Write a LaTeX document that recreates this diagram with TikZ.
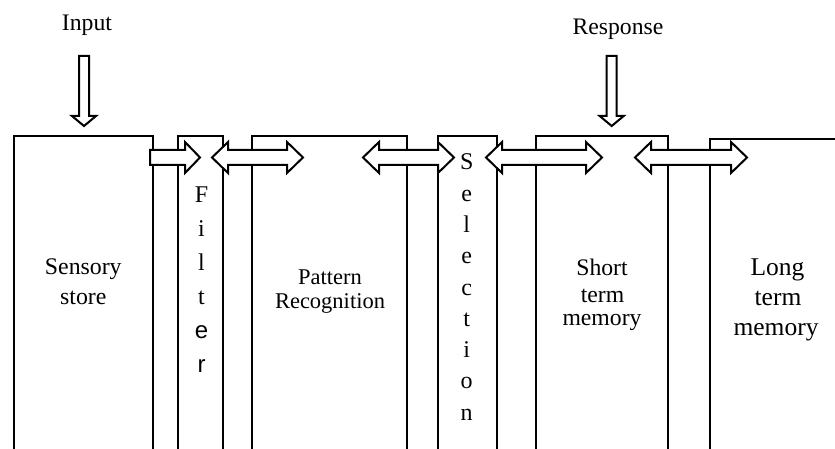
\documentclass[tikz,border=0pt]{standalone}
\usepackage{fontspec}
\setmainfont{Liberation Serif}
\newfontfamily\sansf{Liberation Sans}
\newcommand{\dblArrow}[3]{\draw[blockarrow] (#1,#3) -- ++(16,-15.5) -- ++(0,8) -- (#2-16,#3-7.5) -- ++(0,-8) -- (#2,#3) -- ++(-16,15.5) -- ++(0,-8) -- (#1+16,#3+7.5) -- ++(0,8) -- cycle;}
\newcommand{\downArrow}[1]{\draw[blockarrow] (#1-5,56) -- (#1+5,56) -- (#1+5,116) -- (#1+12,116) -- (#1,126) -- (#1-12,116) -- (#1-5,116) -- cycle;}
\begin{document}
\begin{tikzpicture}[x=1pt,y=-1pt,line width=2pt,
  box/.style={draw,line join=miter},
  blockarrow/.style={draw,fill=white,line join=miter,miter limit=10},
  lbl/.style={anchor=base,inner sep=0pt,font=\fontsize{23.7}{28}\selectfont}]
\clip (0,0) rectangle (835,449);
\fill[white] (0,0) rectangle (835,449);
% boxes (open at the bottom)
\draw[box] (14,470) -- (14,136) -- (153,136) -- (153,470);
\draw[box] (178,470) -- (178,136) -- (223,136) -- (223,470);
\draw[box] (252,470) -- (252,136) -- (407,136) -- (407,470);
\draw[box] (438,470) -- (438,136) -- (497,136) -- (497,470);
\draw[box] (536,470) -- (536,136) -- (668,136) -- (668,470);
\draw[box] (710,470) -- (710,139.5) -- (850,139.5);
% down arrows
\downArrow{84}
\downArrow{611.7}
% horizontal block arrows
\draw[blockarrow] (150,150) -- (185,150) -- (185,142) -- (200,157.5) -- (185,173) -- (185,165) -- (150,165) -- cycle;
\dblArrow{212}{303}{157.5}
\dblArrow{363}{454}{157.5}
\dblArrow{486}{602}{157.5}
\dblArrow{635}{747}{157.5}
% labels
\node[lbl] (input) at (87,31) {Input};
\node[lbl] (response) at (618,35) {Response};
\node[lbl,font=\fontsize{23.8}{28}\selectfont] (sens1) at (83.3,274.3) {Sensory};
\node[lbl,font=\fontsize{23.8}{28}\selectfont] (sens2) at (83.3,304) {store};
\node[lbl,font=\fontsize{22.5}{26}\selectfont] (pat1) at (330,284) {Pattern};
\node[lbl,font=\fontsize{22.5}{26}\selectfont] (pat2) at (330,308.3) {Recognition};
\node[lbl] (stm1) at (602,275) {Short};
\node[lbl] (stm2) at (602.5,302.3) {term};
\node[lbl] (stm3) at (602,325) {memory};
\node[lbl,font=\fontsize{25.5}{30}\selectfont] (ltm1) at (777.5,275) {Long};
\node[lbl,font=\fontsize{25.5}{30}\selectfont] (ltm2) at (778,305) {term};
\node[lbl,font=\fontsize{25.5}{30}\selectfont] (ltm3) at (776,335) {memory};
\foreach \ch [count=\i from 0] in {F,i,l,t,{\sansf e},{\sansf r}}
  \node[lbl,font=\fontsize{24}{28}\selectfont] (f\i) at (201.5,203+33.8*\i) {\ch};
\foreach \ch [count=\i from 0] in {S,e,l,e,c,t,i,o,n}
  \node[lbl,font=\fontsize{24}{28}\selectfont] (s\i) at (466.7,170+31.25*\i) {\ch};
\end{tikzpicture}
\end{document}
